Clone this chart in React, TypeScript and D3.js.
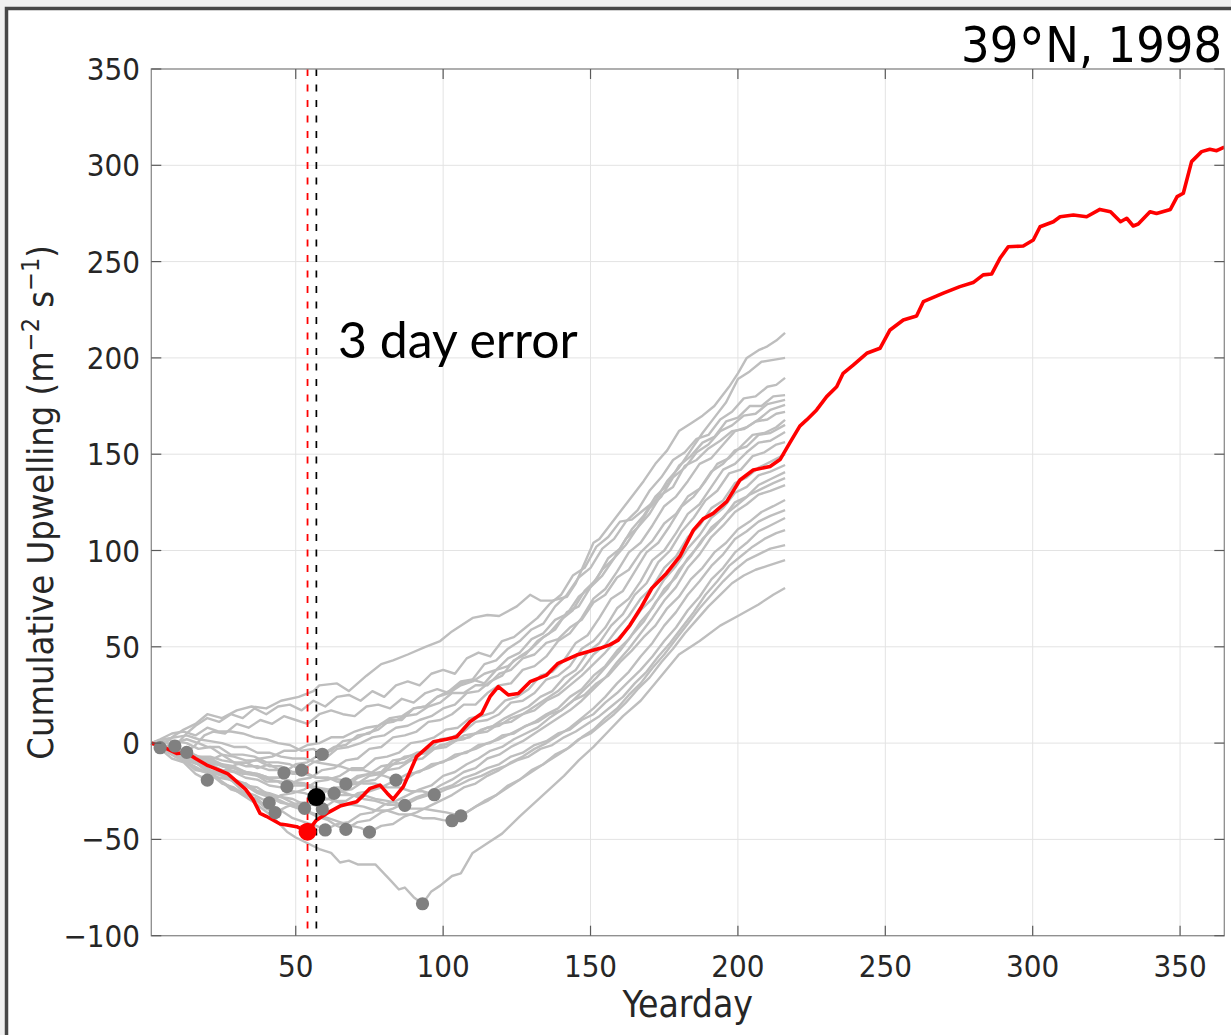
import React from "react";
import * as d3 from "d3";

// Ensemble of cumulative upwelling curves (yearday, m^2 s^-1) for 39°N, 1998.
type Pt = [number, number];

const member01: Pt[] = [[1,0],[4,-2.4],[8,3],[12,7],[16,10],[20,15],[25,13],[30,17],[35,19],[40,18],[45,22],[51,24],[56,27],[58,30],[64,31],[68,27],[74,35],[79,41],[83,43],[88,46],[94,50],[99,53],[103,58],[110,65],[115,66.5],[119,66],[125,71],[129.5,77],[133,74],[137,74],[142,76],[145,83],[149,97],[151,104],[153,106],[158,116],[163,126],[168,136],[172,145],[176,152],[180,162],[184,166],[188,170],[192,175],[197,185],[200,192],[203,200],[207,204],[210,206],[213,209],[216,213]];
const member02: Pt[] = [[1,0],[5,1],[9,-1.5],[13,5],[16,9],[20,13],[24,11],[28,15],[32,13],[36,18],[40,15],[44,19],[48,20],[52,17],[56,22],[60,19],[64,24],[68,25],[72,22],[76,27],[80,24],[84,30],[88,32],[92,30],[96,36],[100,38],[104,36],[108,44],[112,47],[116,45],[120,53],[124,55],[128,60],[132,65],[136,72],[140,77],[144,87],[148,91],[152,102],[156,107],[160,115],[164,116],[168,121],[172,126],[176,136],[180,143],[184,152],[188,161],[192,169],[196,177],[200,189],[204,193],[208,198],[212,199],[216,200]];
const member03: Pt[] = [[1,0],[5,-2],[9,-4],[13,-4.8],[16,-1],[19,4],[22,6],[26,5],[30,10],[34,8],[38,12],[42,10],[46,14],[50,12],[54,10],[58,15],[62,17],[66,15],[70,14],[74,19],[78,20],[82,18],[86,23],[90,21],[94,26],[98,28],[102,26],[106,31],[110,33],[114,31],[118,38],[122,40],[126,45],[130,49],[134,55],[138,59],[142,68],[146,71],[150,81],[154,87],[158,96],[162,103],[166,112],[170,119],[174,129],[178,133],[182,144],[186,147],[190,153],[194,157],[198,162],[202,163],[206,167],[210,168],[213,171],[216,172]];
const member04: Pt[] = [[1,0],[5,-2],[9,-6],[13,-6],[17,-7],[21,-9],[25,-6],[29,-10],[33,-10],[37,-13],[41,-11],[46,-15.4],[50,-11],[54,-10],[58,-6],[62,-4],[66,1],[70,2],[74,5],[78,7],[82,12],[86,12],[90,18],[94,19],[98,24],[102,27],[106,32],[110,33],[114,41],[118,43],[122,49],[126,53],[130,59],[134,62],[138,71],[142,77],[146,86],[150,91],[154,101],[158,106],[162,115],[166,121],[170,131],[174,138],[178,147],[182,151],[186,158],[190,160],[194,168],[198,172],[202,179],[206,180],[210,185],[213,186],[216,189.6]];
const member05: Pt[] = [[1,0],[5,-2],[9,0],[13,2],[17,0],[20,-2],[24,-2],[28,-6],[32,-6],[36,-7],[40,-10],[44,-10],[48,-11],[52,-14],[56,-10],[60,-8],[64,-3],[68,-2],[72,0],[76,3],[80,4],[84,8],[88,9],[92,12],[96,14],[100,18],[104,20],[108,26],[112,27],[116,32],[120,35],[124,43],[128,46],[132,53],[136,57],[140,64],[144,69],[148,79],[152,85],[156,96],[160,101],[164,111],[168,118],[172,128],[176,134],[180,144],[184,149],[188,156],[192,159],[196,167],[200,169],[204,175],[208,175],[212,180],[216,180.7]];
const member06: Pt[] = [[1,0],[4,2],[8,5],[12,6],[16,4],[20,8],[24,6],[28,6],[32,5],[36,3],[40,2],[44,0],[48,-1],[52,-4],[56,-3],[59,-5.8],[63,-2],[67,-1],[71,4],[75,5],[79,10],[83,11],[87,14],[91,15],[95,19],[99,21],[103,26],[107,26],[111,30],[115,30],[119,36],[123,38],[127,44],[131,46],[135,52],[139,54],[143,60],[147,64],[151,73],[155,77],[159,86],[163,90],[167,99],[171,105],[175,114],[179,119],[183,128],[187,132],[191,141],[195,145],[199,152],[203,154],[207,160],[211,161],[216,165.2]];
const member07: Pt[] = [[1,0],[4,-3],[8,-8],[12,-10],[16,-16],[20,-19.2],[23,-15],[26,-14],[30,-11],[34,-10],[38,-8],[42,-7],[46,-4],[50,-4],[54,-1],[58,0],[62,3],[66,3],[70,6],[74,8],[78,9],[82,13],[86,14],[90,18],[94,19],[98,24],[102,26],[106,30],[110,32],[114,36],[118,38],[122,44],[126,47],[130,54],[134,57],[138,64],[142,67],[146,76],[150,81],[154,90],[158,96],[162,106],[166,112],[170,122],[174,128],[178,138],[182,143],[186,151],[190,155],[194,162],[198,165],[202,170],[206,171],[210,176],[216,178.2]];
const member08: Pt[] = [[1,0],[4,-2],[8,-3],[12,-7],[16,-8],[20,-11],[24,-11],[28,-14],[32,-16],[36,-16],[40,-20],[44,-20],[47,-22.6],[51,-19],[55,-18],[59,-14],[63,-13],[67,-9],[71,-8],[75,-3],[79,-2],[83,3],[87,4],[91,6],[95,11],[99,12],[103,15],[107,20],[111,20],[115,26],[119,30],[123,31],[127,38],[131,40],[135,45],[139,53],[143,57],[147,65],[151,75],[155,80],[159,89],[163,99],[167,104],[171,113],[175,123],[179,128],[183,136],[187,145],[191,148],[195,155],[199,162],[203,164],[207,168],[211,173],[216,175.6]];
const member09: Pt[] = [[1,0],[4,-3],[8,-4],[12,-9],[16,-10],[20,-15],[24,-18],[28,-19],[32,-25],[36,-27],[41,-31],[45,-27],[49,-26],[53,-24],[57,-20],[61,-19],[65,-17],[69,-13],[73,-13],[77,-8],[81,-7],[85,-5],[89,0],[93,1],[97,3],[101,7],[105,8],[109,13],[113,14],[117,16],[121,22],[125,24],[129,28],[133,35],[137,37],[141,43],[145,52],[149,56],[153,65],[157,75],[161,79],[165,89],[169,99],[173,104],[177,113],[181,123],[185,128],[189,136],[193,145],[197,148],[201,154],[205,160],[209,161],[213,164],[216,167.8]];
const member10: Pt[] = [[1,0],[4,-2],[8,-6],[12,-9],[16,-14],[20,-15],[24,-19],[28,-24],[32,-26],[36,-29],[40,-34],[43,-36.1],[47,-33],[51,-31],[55,-31],[59,-26],[63,-23],[67,-23],[71,-18],[75,-16],[79,-15],[83,-9],[87,-8],[91,-5],[95,-4],[99,2],[103,3],[107,6],[111,11],[115,12],[119,15],[123,21],[127,22],[131,26],[135,33],[139,35],[143,40],[147,49],[151,53],[155,60],[159,70],[163,75],[167,84],[171,95],[175,100],[179,109],[183,119],[187,124],[191,133],[195,142],[199,145],[203,151],[207,156],[211,157],[216,161.5]];
const member11: Pt[] = [[1,0],[5,-3],[9,-4],[13,-8],[17,-10],[21,-15],[25,-16],[29,-19],[33,-22],[37,-23],[41,-27],[45,-28],[49,-31],[53,-33.9],[57,-30],[61,-29],[65,-25],[69,-24],[73,-20],[77,-19],[81,-14],[85,-13],[89,-9],[93,-8],[97,-3],[101,-2],[105,2],[109,3],[113,7],[117,9],[121,13],[125,16],[129,19],[133,24],[137,27],[141,34],[145,38],[149,47],[153,52],[157,61],[161,67],[165,77],[169,83],[173,94],[177,100],[181,110],[185,117],[189,126],[193,131],[197,140],[201,142],[205,149],[209,151],[213,155],[216,156.3]];
const member12: Pt[] = [[1,0],[5,-1],[9,-3],[13,-4],[17,-7],[21,-8],[25,-11],[29,-12],[33,-15],[37,-16],[41,-18],[45,-18],[49,-21],[53,-21],[57,-24],[60,-24],[63,-26.1],[67,-22],[71,-21],[75,-17],[79,-16],[83,-11],[87,-10],[91,-6],[95,-5],[99,-1],[103,0],[107,4],[111,5],[115,8],[119,9],[123,13],[127,15],[131,19],[135,23],[139,27],[143,33],[147,38],[151,46],[155,51],[159,59],[163,66],[167,75],[171,81],[175,91],[179,97],[183,107],[187,113],[191,122],[195,126],[199,135],[203,138],[207,143],[211,146],[216,150]];
const member13: Pt[] = [[1,0],[5,2],[9,1],[13,0],[17,-3],[21,-2],[25,-6],[29,-7],[33,-9],[37,-9],[41,-12],[45,-12],[49,-15],[53,-15],[57,-18],[61,-18],[64,-20],[67,-21.2],[71,-17],[75,-16],[79,-12],[83,-11],[87,-7],[91,-6],[95,-3],[99,-2],[103,1],[107,2],[111,5],[115,6],[119,10],[123,11],[127,15],[131,17],[135,22],[139,25],[143,30],[147,35],[151,41],[155,47],[159,54],[163,60],[167,69],[171,75],[175,85],[179,92],[183,101],[187,108],[191,117],[195,122],[199,130],[203,133],[207,139],[211,141],[216,144.4]];
const member14: Pt[] = [[1,0],[5,-3],[9,-5],[13,-9],[17,-11],[21,-15],[25,-16],[29,-20],[33,-21],[37,-25],[41,-26],[45,-28],[49,-29],[53,-32],[56,-32],[59,-34.2],[63,-30],[67,-30],[71,-26],[75,-25],[79,-23],[83,-20],[87,-19],[91,-15],[95,-13],[99,-10],[103,-8],[107,-5],[111,-3],[115,0],[119,2],[123,5],[127,8],[131,11],[135,15],[139,18],[143,24],[147,28],[151,35],[155,40],[159,48],[163,54],[167,63],[171,70],[175,80],[179,86],[183,96],[187,103],[191,112],[195,117],[199,125],[203,128],[207,134],[211,137],[216,140.7]];
const member15: Pt[] = [[1,0],[5,-3],[9,-7],[13,-10],[17,-14],[21,-16],[25,-21],[29,-23],[33,-27],[37,-29],[41,-34],[45,-35],[49,-39],[53,-41],[57,-43],[60,-45.1],[64,-42],[68,-41],[72,-37],[76,-36],[80,-32],[84,-30],[88,-27],[92,-24],[96,-22],[100,-17],[104,-15],[108,-11],[112,-8],[116,-4],[120,-2],[124,2],[128,5],[132,8],[136,13],[140,17],[144,22],[148,28],[152,34],[156,41],[160,48],[164,56],[168,63],[172,73],[176,80],[180,90],[184,97],[188,106],[192,112],[196,119],[200,124],[204,129],[208,132],[212,135],[216,137.6]];
const member16: Pt[] = [[1,0],[5,-2],[9,-5],[13,-8],[17,-10],[21,-14],[25,-16],[29,-19],[33,-21],[37,-25],[41,-27],[45,-30],[49,-33],[53,-35],[57,-38],[61,-40],[64,-43],[67,-44.8],[71,-41],[75,-40],[79,-36],[83,-34],[87,-31],[91,-28],[95,-26],[99,-22],[103,-19],[107,-15],[111,-13],[115,-8],[119,-6],[123,-2],[127,1],[131,5],[135,9],[139,13],[143,17],[147,22],[151,28],[155,34],[159,42],[163,49],[167,57],[171,65],[175,74],[179,81],[183,91],[187,98],[191,107],[195,113],[199,120],[203,124],[207,129],[211,131],[216,134]];
const member17: Pt[] = [[1,0],[5,2],[9,3],[13,4],[17,2],[21,1],[25,0],[29,-2],[33,-2],[37,-5],[41,-5],[45,-7],[49,-8],[53,-8],[57,-10],[61,-11],[65,-12],[69,-14],[73,-14],[77,-16],[80,-17],[84,-19.2],[88,-16],[92,-15],[96,-11],[100,-10],[104,-6],[108,-5],[112,-1],[116,0],[120,4],[124,5],[128,9],[132,11],[136,15],[140,17],[144,22],[148,25],[152,31],[156,35],[160,42],[164,48],[168,55],[172,61],[176,70],[180,76],[184,85],[188,91],[192,99],[196,104],[200,111],[204,115],[208,120],[212,123],[216,126.2]];
const member18: Pt[] = [[1,0],[5,-3],[9,-6],[13,-9],[17,-11],[21,-15],[25,-17],[29,-20],[33,-22],[37,-26],[41,-28],[45,-31],[49,-32],[53,-35],[57,-37],[61,-39],[65,-41],[69,-43],[72,-44],[75,-46.2],[79,-43],[83,-42],[87,-38],[91,-36],[95,-33],[99,-30],[103,-27],[107,-23],[111,-21],[115,-17],[119,-14],[123,-10],[127,-7],[131,-3],[135,0],[139,4],[143,8],[147,13],[151,18],[155,24],[159,31],[163,37],[167,45],[171,52],[175,61],[179,68],[183,77],[187,84],[191,92],[195,98],[199,106],[203,110],[207,115],[211,118],[216,121]];
const member19: Pt[] = [[1,0],[5,-2],[9,-5],[13,-6],[17,-9],[21,-10],[25,-12],[29,-13],[33,-15],[37,-16],[41,-18],[45,-18],[49,-20],[53,-21],[57,-23],[61,-24],[65,-25],[69,-27],[73,-27],[77,-29],[81,-30],[84,-31],[87,-32.3],[91,-29],[95,-27],[99,-24],[103,-22],[107,-18],[111,-16],[115,-13],[119,-11],[123,-7],[127,-5],[131,-1],[135,1],[139,5],[143,7],[147,12],[151,15],[155,21],[159,26],[163,32],[167,38],[171,45],[175,53],[179,60],[183,69],[187,76],[191,85],[195,91],[199,99],[203,104],[207,110],[211,113],[216,116.9]];
const member20: Pt[] = [[1,0],[5,-1],[9,-4],[13,-5],[17,-7],[21,-7],[25,-9],[29,-10],[33,-12],[37,-12],[41,-14],[45,-14],[49,-16],[53,-16],[57,-18],[61,-18],[65,-19],[69,-20],[73,-21],[77,-21],[81,-23],[85,-23],[89,-25],[93,-25],[97,-26.8],[101,-24],[105,-22],[109,-19],[113,-17],[117,-14],[121,-12],[125,-9],[129,-7],[133,-3],[137,-1],[141,3],[145,6],[149,10],[153,14],[157,19],[161,24],[165,31],[169,37],[173,45],[177,52],[181,60],[185,68],[189,77],[193,84],[197,92],[201,97],[205,102],[209,106],[213,109],[216,110.6]];
const member21: Pt[] = [[1,0],[5,-2],[9,-5],[13,-7],[17,-10],[21,-11],[25,-14],[29,-15],[33,-18],[37,-19],[41,-22],[45,-23],[49,-25],[53,-26],[57,-28],[61,-29],[65,-31],[69,-32],[73,-33],[77,-35],[81,-35],[85,-37],[89,-37],[93,-39],[97,-39],[100,-40],[103,-40.3],[107,-37],[111,-33],[115,-30],[119,-26],[123,-22],[127,-18],[131,-14],[135,-10],[139,-6],[143,-2],[147,3],[151,7],[155,13],[159,18],[163,25],[167,31],[171,39],[175,46],[179,54],[183,62],[187,70],[191,77],[195,84],[199,90],[203,95],[207,98],[211,101],[216,102.8]];
const member22: Pt[] = [[1,0],[5,-1],[9,-4],[13,-6],[17,-8],[21,-9],[25,-12],[29,-13],[33,-16],[37,-17],[41,-19],[45,-20],[49,-22],[53,-22],[57,-24],[61,-25],[65,-27],[69,-27],[73,-29],[77,-30],[81,-32],[85,-32],[89,-34],[93,-34],[97,-35],[101,-36],[104,-37],[106,-37.8],[110,-34],[114,-30],[118,-27],[122,-22],[126,-19],[130,-14],[134,-11],[138,-6],[142,-3],[146,2],[150,5],[154,10],[158,15],[162,21],[166,28],[170,34],[174,42],[178,49],[182,57],[186,64],[190,71],[194,77],[198,83],[202,87],[206,90],[210,92],[216,95]];
const member23: Pt[] = [[1,0],[6,-4],[12,-9],[18,-14],[24,-19],[30,-25],[36,-31],[42,-38],[47,-46],[50,-49],[54,-52],[58,-55],[62,-57],[65,-62],[68,-61],[71,-63],[77,-63],[82,-71],[85,-76],[87,-75],[90,-80],[93,-83.4],[96,-77],[99,-74],[103,-69],[106,-67.6],[110,-57],[115,-52],[120,-47],[126,-38],[131,-31],[136,-24],[141,-17],[146,-9],[151,-2],[156,6],[161,14],[167,22],[173,33],[180,46],[187,53],[194,61],[200,66],[207,72],[212,77],[216,80.5]];

const ensemble: Pt[][] = [
  member01, member02, member03, member04, member05, member06, member07, member08,
  member09, member10, member11, member12, member13, member14, member15, member16,
  member17, member18, member19, member20, member21, member22, member23,
];

// Observed cumulative upwelling for the full year.
const observed: Pt[] = [[1,0],[5,-2],[9.6,-5.4],[13,-5],[16,-8],[19.8,-11.4],[24,-14],[27,-16],[30,-20],[33,-24],[35.6,-29.5],[37.9,-36.5],[40,-38],[44.7,-42],[47,-42.5],[50.3,-43.4],[54,-46],[57,-40],[60.5,-36.5],[65,-32.7],[70.7,-30.4],[73,-27],[75.2,-23.5],[78.6,-21.8],[81,-26],[83,-29.2],[86.5,-22.6],[89,-14],[91,-7],[94,-3],[96.7,0.7],[101.2,2],[104.6,3.3],[109.1,11.1],[113.1,15.4],[115.9,24.1],[118.7,29.3],[122.1,25],[125.5,25.8],[129.5,31.9],[135.1,35.3],[139,41.4],[145.3,45.7],[153.2,49.2],[156.5,51],[159.4,53.5],[163.4,61.3],[167.3,70.8],[170.8,80.4],[175.8,88.2],[180.3,96.9],[184.9,110.6],[188.2,116.4],[191.6,119.3],[196.2,125.4],[200.7,136.6],[205.2,141.8],[210.9,143.6],[214.3,147.2],[217.6,155.9],[221,164.6],[223.3,167.8],[226.7,173],[230.1,179.9],[233.5,185],[235.7,192],[239.1,196.3],[243.7,202.4],[248.2,205],[251.6,214.5],[256.1,219.7],[260.6,221.8],[262.9,229.2],[269.7,233.6],[275.3,237],[279.8,239.1],[283.2,243.1],[286.1,243.6],[288.9,251.7],[291.7,257.7],[296.8,258.1],[300.2,261.2],[302.5,268.1],[307,270.7],[309.3,273.3],[313.8,274.2],[318.3,273.3],[322.8,277.1],[326.4,275.9],[329.8,270.7],[331.9,272.5],[334.1,268.5],[335.8,269.5],[339.8,275.9],[342,275],[346.7,277.1],[349,283.7],[351.1,285.5],[353.9,301.9],[357.3,307.1],[360.1,308.3],[362.4,307.6],[365,309.5]];

// Spring transition: observed minimum and ensemble-mean minimum.
const observedTransition: Pt = [54, -46];
const ensembleTransition: Pt = [57, -28];

const xTicks = [50, 100, 150, 200, 250, 300, 350];
const yTicks = [-100, -50, 0, 50, 100, 150, 200, 250, 300, 350];

const W = 1231;
const H = 1035;
const plot = { left: 151.3, right: 1224.3, top: 69, bottom: 935.7 };

const x = d3.scaleLinear().domain([1, 365]).range([plot.left, plot.right]);
const y = d3.scaleLinear().domain([-100, 350]).range([plot.bottom, plot.top]);

const line = d3
  .line<Pt>()
  .x((d) => x(d[0]))
  .y((d) => y(d[1]));

const tickFont = "'DejaVu Sans Condensed', 'DejaVu Sans', sans-serif";

export default function App() {
  const minima = ensemble.map((m) => d3.least(m, (p) => p[1]) as Pt);
  const tickLen = 10;
  return (
    <svg
      width={W}
      height={H}
      style={{ position: "absolute", left: 0, top: 0, display: "block" }}
    >
      <rect x={0} y={0} width={W} height={H} fill="#f0f0f0" />
      <rect x={6.5} y={8.5} width={W + 20} height={H + 20} fill="#ffffff" stroke="#474747" strokeWidth={3.5} />

      {/* grid */}
      <g stroke="#e3e3e3" strokeWidth={1}>
        {xTicks.map((t) => (
          <line key={"gx" + t} x1={x(t)} x2={x(t)} y1={plot.top} y2={plot.bottom} />
        ))}
        {yTicks.map((t) => (
          <line key={"gy" + t} x1={plot.left} x2={plot.right} y1={y(t)} y2={y(t)} />
        ))}
      </g>

      {/* ensemble members */}
      <g fill="none" stroke="#bebebe" strokeWidth={2.4} strokeLinejoin="round">
        {ensemble.map((m, i) => (
          <path key={"m" + i} d={line(m) ?? ""} />
        ))}
      </g>

      {/* observed */}
      <path d={line(observed) ?? ""} fill="none" stroke="#ff0000" strokeWidth={3.6} strokeLinejoin="round" />

      {/* transition markers */}
      <line x1={x(observedTransition[0])} x2={x(observedTransition[0])} y1={plot.top} y2={plot.bottom}
        stroke="#ff0000" strokeWidth={1.8} strokeDasharray="7 8.5" />
      <line x1={x(ensembleTransition[0])} x2={x(ensembleTransition[0])} y1={plot.top} y2={plot.bottom}
        stroke="#000000" strokeWidth={1.7} strokeDasharray="7 8.5" />

      <g fill="#808080">
        {minima.map((p, i) => (
          <circle key={"d" + i} cx={x(p[0])} cy={y(p[1])} r={6.6} />
        ))}
      </g>
      <circle cx={x(observedTransition[0])} cy={y(observedTransition[1])} r={9} fill="#ff0000" />
      <circle cx={x(ensembleTransition[0])} cy={y(ensembleTransition[1])} r={9} fill="#000000" />

      {/* axes box and ticks */}
      <rect x={plot.left} y={plot.top} width={plot.right - plot.left} height={plot.bottom - plot.top}
        fill="none" stroke="#8c8c8c" strokeWidth={1.3} />
      <g stroke="#5a5a5a" strokeWidth={1.2}>
        {xTicks.map((t) => (
          <g key={"tx" + t}>
            <line x1={x(t)} x2={x(t)} y1={plot.bottom} y2={plot.bottom - tickLen} />
            <line x1={x(t)} x2={x(t)} y1={plot.top} y2={plot.top + tickLen} />
          </g>
        ))}
        {yTicks.map((t) => (
          <g key={"ty" + t}>
            <line x1={plot.left} x2={plot.left + tickLen} y1={y(t)} y2={y(t)} />
            <line x1={plot.right} x2={plot.right - tickLen} y1={y(t)} y2={y(t)} />
          </g>
        ))}
      </g>

      <g fill="#262626" fontFamily={tickFont} fontSize={31}>
        {xTicks.map((t) => (
          <text key={"lx" + t} x={x(t)} y={977} textAnchor="middle">{t}</text>
        ))}
        {yTicks.map((t) => (
          <text key={"ly" + t} x={140} y={y(t) + 11} textAnchor="end">
            {t < 0 ? "\u2212" + Math.abs(t) : t}
          </text>
        ))}
        <text x={(plot.left + plot.right) / 2} y={1017} textAnchor="middle" fontSize={37}>Yearday</text>
        <text transform={`translate(53, ${(plot.top + plot.bottom) / 2}) rotate(-90)`} textAnchor="middle" fontSize={36}>
          Cumulative Upwelling (m
          <tspan dy={-14} fontSize={25}>{"\u2212"}2</tspan>
          <tspan dy={14}> s</tspan>
          <tspan dy={-14} fontSize={25}>{"\u2212"}1</tspan>
          <tspan dy={14}>)</tspan>
        </text>
      </g>

      <text x={1222} y={62} textAnchor="end" fontFamily={tickFont} fontSize={50} fill="#000">
        39<tspan dy={9} fontSize={60}>{"\u00b0"}</tspan><tspan dy={-9}>N, 1998</tspan>
      </text>

      <text x={338} y={358} fontFamily="Lato, 'Open Sans', sans-serif" fontSize={50} fill="#000">3 day error</text>
    </svg>
  );
}
